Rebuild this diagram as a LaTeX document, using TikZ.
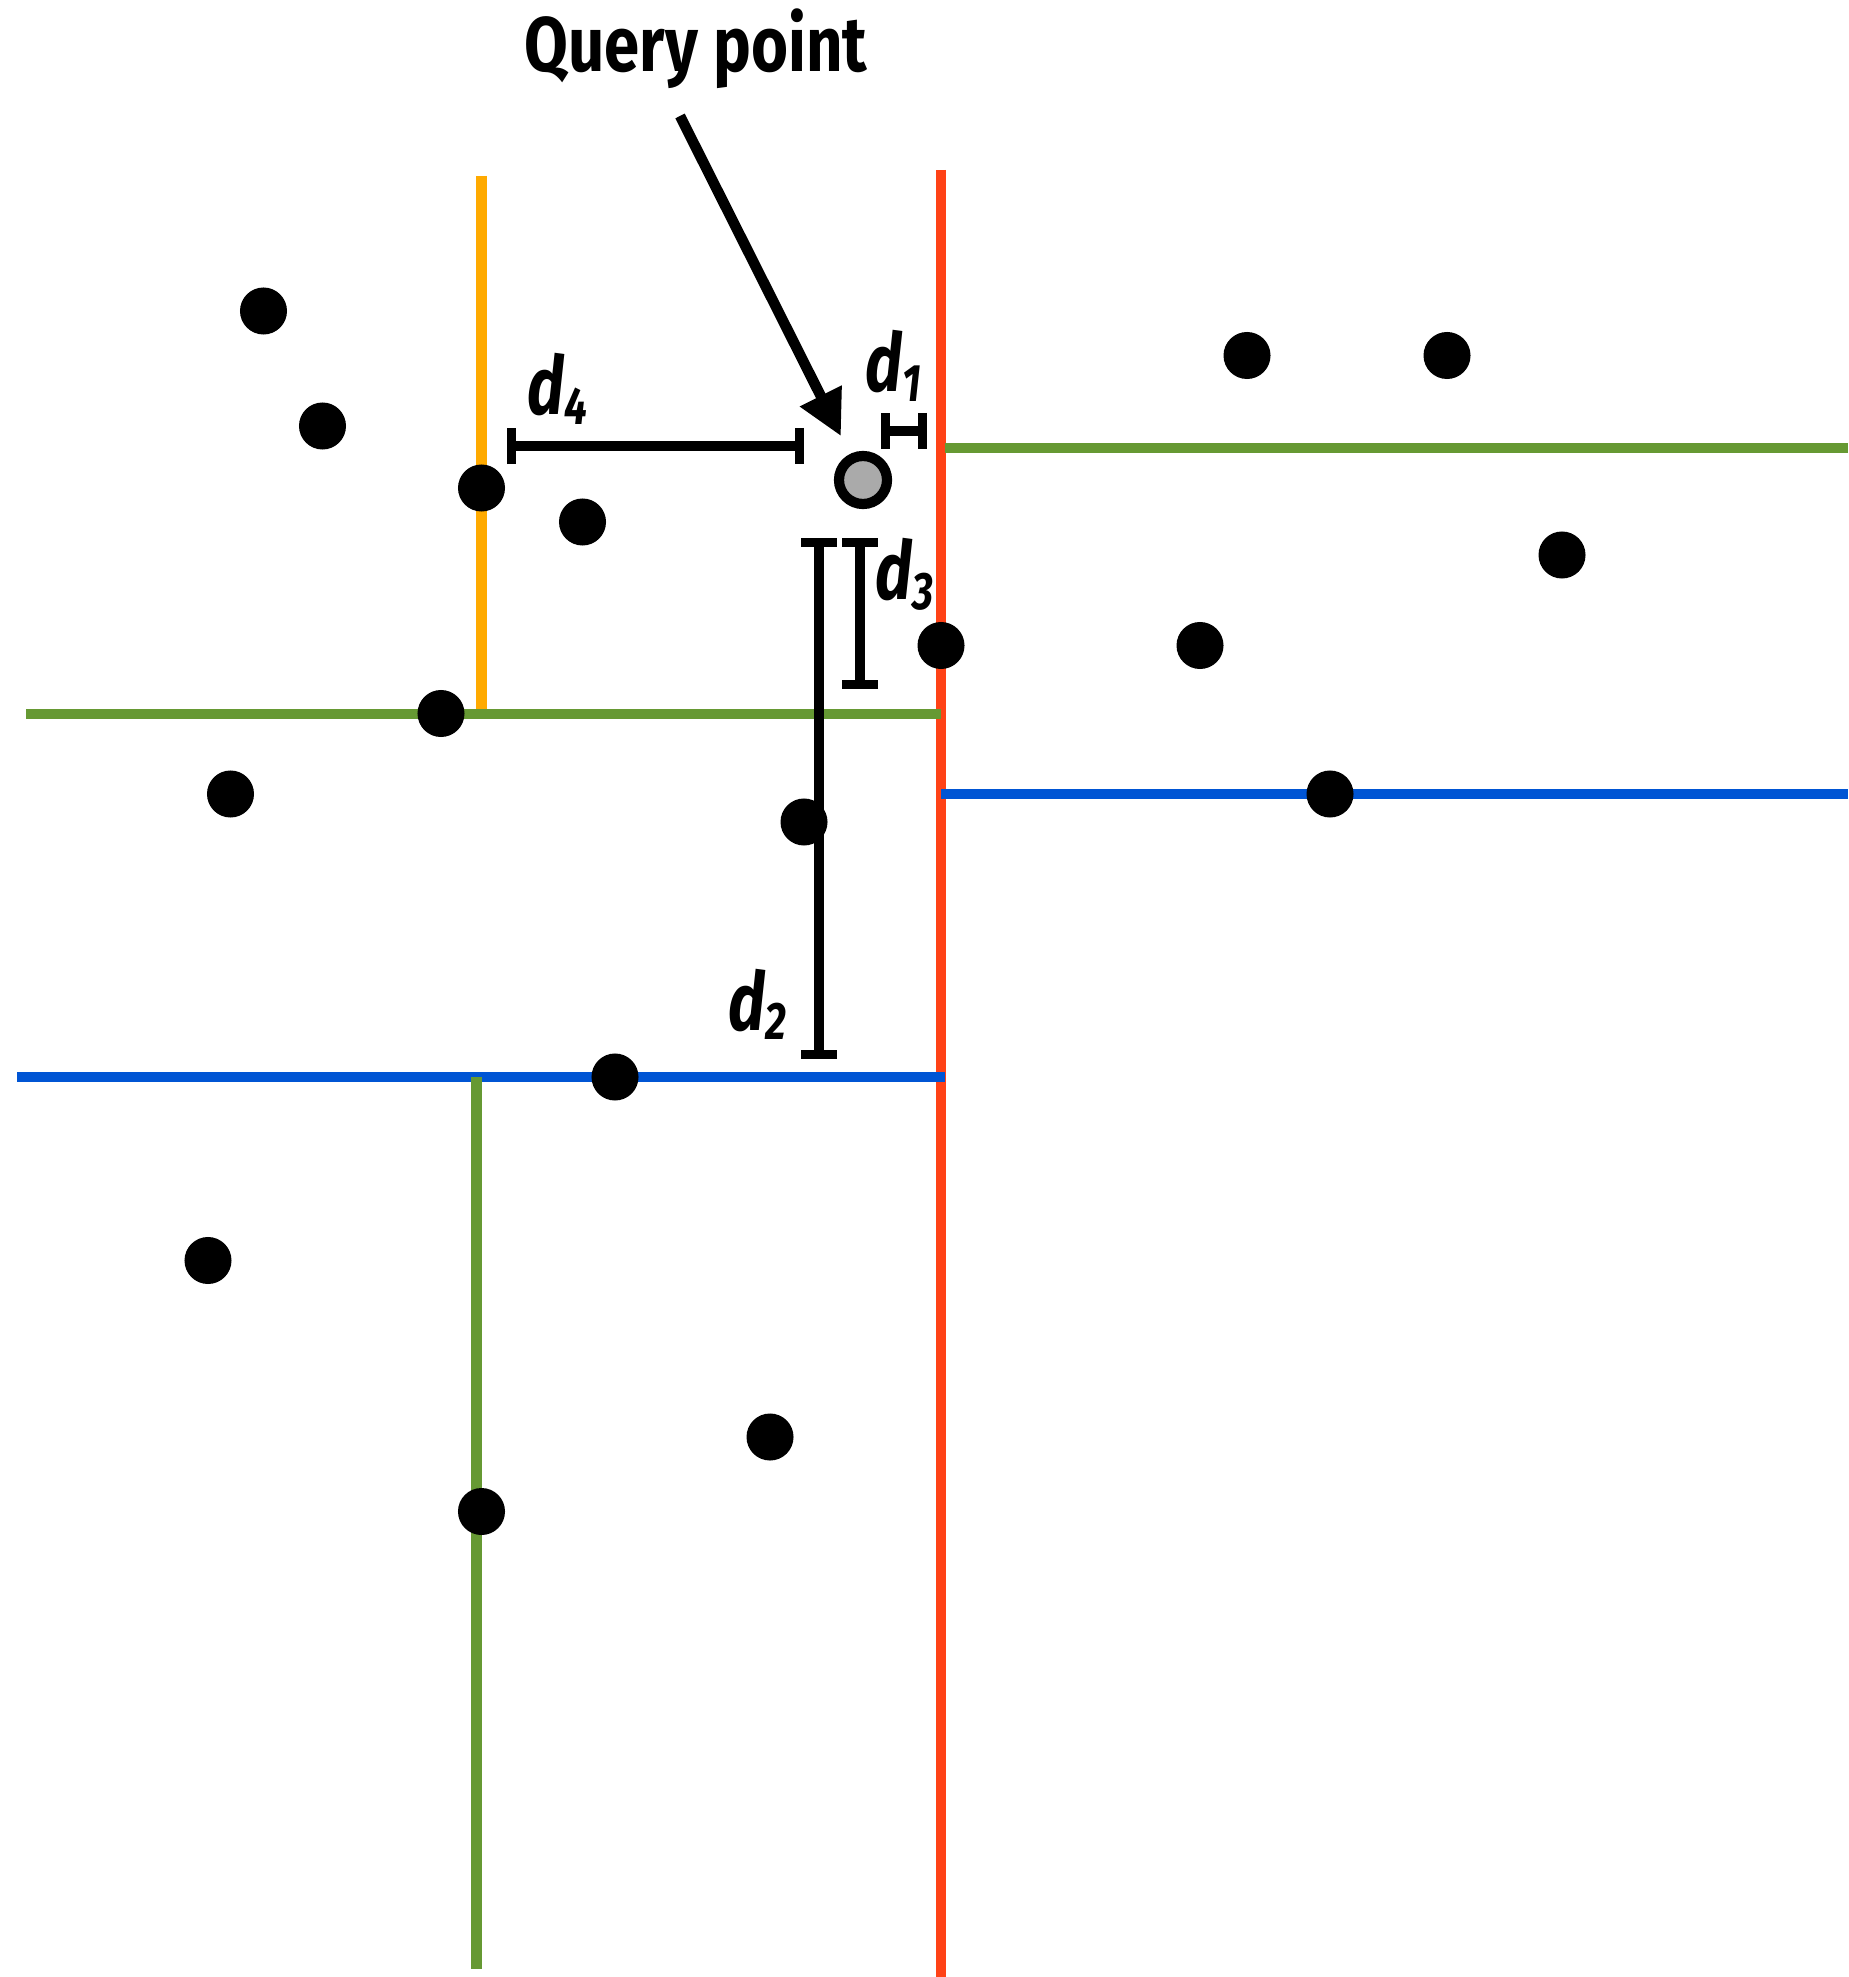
\documentclass[tikz,border=0pt]{standalone}
\usepackage{fontspec}
\newfontfamily\labfont{Fira Sans}[FakeStretch=0.78]
\newfontfamily\titlefont{Fira Sans}[FakeStretch=0.82]
\usetikzlibrary{arrows.meta}

\definecolor{splitred}{RGB}{255,66,22}
\definecolor{splitorange}{RGB}{255,170,0}
\definecolor{splitgreen}{RGB}{102,153,51}
\definecolor{splitblue}{RGB}{0,85,212}
\definecolor{querygray}{RGB}{170,170,170}

\tikzset{
  split/.style={line width=3pt},
  pt/.style={circle, fill=black, inner sep=0pt, minimum size=0.47cm},
  query/.style={circle, draw=black, fill=querygray, line width=2.9pt, inner sep=0pt, minimum size=0.48cm},
  dim/.style={line width=2.6pt, {Bar[width=0.36cm]}-{Bar[width=0.36cm]}},
  dlab/.style={font=\labfont\fontsize{23}{23}\selectfont\bfseries\itshape, inner sep=0pt, anchor=base west},
}
\newcommand\sub[1]{\raisebox{-0.12em}{\fontsize{15}{15}\selectfont #1}}

\begin{document}
\begin{tikzpicture}[x=0.01cm, y=-0.01cm]
\useasboundingbox (0,0) rectangle (1848,1977);

% splitting planes
\draw[split, splitred] (941,170) -- (941,1977);
\draw[split, splitorange] (481.5,176) -- (481.5,714);
\draw[split, splitgreen] (945,448) -- (1848,448);
\draw[split, splitgreen] (26,714) -- (941,714);
\draw[split, splitblue] (941,794) -- (1848,794);
\draw[split, splitblue] (17,1077) -- (945,1077);
\draw[split, splitgreen] (476.5,1077) -- (476.5,1969);

% data points
\node[pt] (p1) at (263.5,311) {};
\node[pt] (p2) at (322.5,426) {};
\node[pt] (p3) at (481.5,488) {};
\node[pt] (p4) at (582.5,522) {};
\node[pt] (p5) at (441,713.5) {};
\node[pt] (p6) at (230.5,794) {};
\node[pt] (p7) at (804,822) {};
\node[pt] (p8) at (615,1077) {};
\node[pt] (p9) at (208,1260.5) {};
\node[pt] (p10) at (770,1437) {};
\node[pt] (p11) at (481.5,1511.5) {};
\node[pt] (p12) at (941,645.5) {};
\node[pt] (p13) at (1200,645.5) {};
\node[pt] (p14) at (1247,355.5) {};
\node[pt] (p15) at (1447,355.5) {};
\node[pt] (p16) at (1562,555) {};
\node[pt] (p17) at (1330,794) {};

% query point and its label
\node[query] (q) at (863,480) {};
\node[font=\titlefont\fontsize{22}{22}\selectfont\bfseries, anchor=base, inner sep=0pt] (qlab) at (696,72) {Query point};
\coordinate (qtail) at (680,116);
\draw[line width=3pt, -{Triangle[length=0.45cm, width=0.44cm]}, shorten >=0.2cm] (qtail) -- (q);

% distances to the splitting planes
\coordinate (d1a) at (881,431);
\coordinate (d1b) at (927,431);
\coordinate (d2a) at (819,538);
\coordinate (d2b) at (819,1059);
\coordinate (d3a) at (860,538);
\coordinate (d3b) at (860,689);
\coordinate (d4a) at (507,446);
\coordinate (d4b) at (804,446);
\draw[dim] (d1a) -- (d1b);
\draw[dim] (d2a) -- (d2b);
\draw[dim] (d3a) -- (d3b);
\draw[dim] (d4a) -- (d4b);
\node[dlab] (l1) at (865,392) {d\sub{1}};
\node[dlab] (l2) at (728,1030) {d\sub{2}};
\node[dlab] (l3) at (875,600) {d\sub{3}};
\node[dlab] (l4) at (527,415) {d\sub{4}};
\end{tikzpicture}
\end{document}
